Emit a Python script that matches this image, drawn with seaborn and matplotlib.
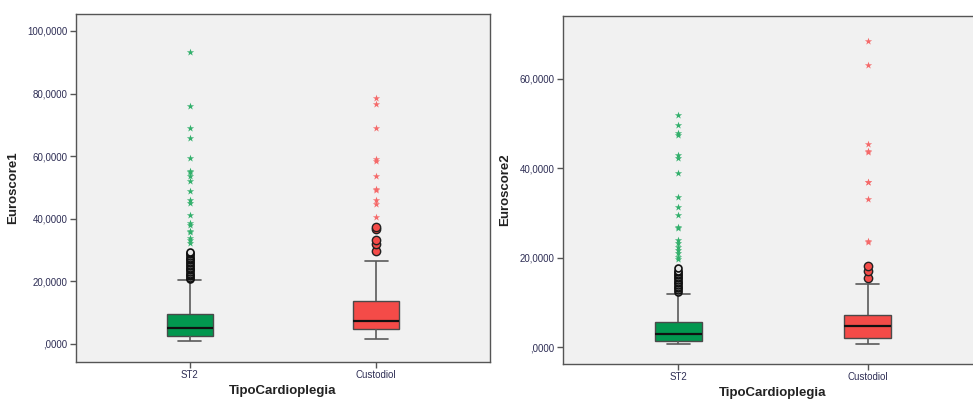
import numpy as np
import pandas as pd
import matplotlib
matplotlib.use("Agg")
import matplotlib.pyplot as plt
import seaborn as sns
from matplotlib.ticker import FuncFormatter

groups = ["ST2", "Custodiol"]

# box statistics: whisker low, Q1, median, Q3, whisker high
e1_st2_box = [0.85, 2.45, 5.1, 9.7, 20.4]
e1_cus_box = [1.4, 4.6, 7.45, 13.6, 26.4]
e2_st2_box = [0.6, 1.4, 2.8, 5.6, 11.8]
e2_cus_box = [0.75, 2.1, 4.7, 7.2, 14.1]

# outliers (circles) and extremes (stars)
e1_st2_out = [20.7, 21.1, 21.6, 22.1, 22.4, 23.0, 23.5, 23.8, 24.4, 24.9, 25.3,
              25.7, 26.3, 26.7, 27.2, 27.6, 28.1, 28.6, 29.0, 29.5]
e1_st2_ext = [93.4, 75.9, 69.1, 65.9, 59.4, 55.4, 54.8, 53.8, 52.0, 48.8, 46.1,
              45.0, 41.1, 38.7, 38.1, 36.2, 35.7, 33.9, 33.3, 32.3]
e1_cus_out = [29.7, 32.0, 33.3, 36.7, 37.3]
e1_cus_ext = [40.5, 44.8, 46.1, 49.3, 49.6, 53.7, 58.6, 59.0, 69.1, 76.6, 78.7]

e2_st2_out = [12.3, 12.8, 13.2, 13.5, 13.9, 14.3, 14.6, 15.0, 15.4, 15.7, 16.1,
              16.4, 16.8, 17.1, 17.6]
e2_st2_ext = [51.8, 49.6, 47.9, 47.4, 42.9, 42.3, 39.0, 33.6, 31.4, 29.6, 26.9,
              26.6, 23.9, 23.2, 22.4, 21.7, 21.0, 20.2, 19.6]
e2_cus_out = [15.5, 16.9, 18.1]
e2_cus_ext = [68.5, 63.1, 45.3, 43.6, 43.8, 36.8, 37.0, 33.1, 23.4, 23.7]

box_colors = {"ST2": "#02974F", "Custodiol": "#F44B48"}
star_colors = {"ST2": "#33B06C", "Custodiol": "#F56A6A"}

sns.set_style("white")
plt.rcParams["font.family"] = ["Liberation Sans", "DejaVu Sans"]

fig = plt.figure(figsize=(9.73, 3.99), dpi=100)
ax1 = fig.add_axes([0.0781, 0.0927, 0.4255, 0.872])
ax2 = fig.add_axes([0.5786, 0.0877, 0.4317, 0.872])


def fmt(v, pos):
    s = ("%.4f" % v).replace(".", ",")
    return s.lstrip("0") if v == 0 else s


def draw_panel(ax, st2_box, cus_box, st2_out, st2_ext, cus_out, cus_ext, ylabel):
    box_df = pd.DataFrame({
        "g": ["ST2"] * len(st2_box) + ["Custodiol"] * len(cus_box),
        "v": st2_box + cus_box,
    })
    sns.boxplot(data=box_df, x="g", y="v", hue="g", order=groups,
                palette=box_colors, saturation=1, width=0.25, whis=1.5,
                showfliers=False, legend=False, ax=ax,
                boxprops=dict(edgecolor="#4A4A4A", linewidth=1.0),
                whiskerprops=dict(color="#5A5A5A", linewidth=1.2),
                capprops=dict(color="#5A5A5A", linewidth=1.2),
                medianprops=dict(color="#111111", linewidth=1.6))

    # circles: mild outliers
    sns.stripplot(x=["ST2"] * len(st2_out), y=st2_out, order=groups,
                  jitter=False, marker="o", size=5, color="#E8E8E8",
                  edgecolor="#111111", linewidth=1.2, ax=ax)
    sns.stripplot(x=["Custodiol"] * len(cus_out), y=cus_out, order=groups,
                  jitter=False, marker="o", size=6, color=box_colors["Custodiol"],
                  edgecolor="#222222", linewidth=1.0, ax=ax)
    # stars: extremes
    sns.stripplot(x=["ST2"] * len(st2_ext), y=st2_ext, order=groups,
                  jitter=False, marker="*", size=5.5, color=star_colors["ST2"],
                  linewidth=0, ax=ax)
    sns.stripplot(x=["Custodiol"] * len(cus_ext), y=cus_ext, order=groups,
                  jitter=False, marker="*", size=5.5, color=star_colors["Custodiol"],
                  linewidth=0, ax=ax)

    ax.set_facecolor("#F1F1F1")
    for s in ax.spines.values():
        s.set_visible(True)
        s.set_color("#555555")
        s.set_linewidth(1.0)
    ax.set_xlim(-0.611, 1.611)
    ax.yaxis.set_major_formatter(FuncFormatter(fmt))
    ax.tick_params(axis="both", which="major", direction="out", length=4,
                   width=1, color="#555555", labelsize=7, labelcolor="#2E2E55",
                   left=True, bottom=True, pad=2)
    ax.set_xlabel("TipoCardioplegia", fontsize=9.5, fontweight="bold",
                  color="#222222", labelpad=3)
    ax.set_ylabel(ylabel, fontsize=9.5, fontweight="bold", color="#222222",
                  labelpad=6)


draw_panel(ax1, e1_st2_box, e1_cus_box, e1_st2_out, e1_st2_ext,
           e1_cus_out, e1_cus_ext, "Euroscore1")
ax1.set_ylim(-5.8, 105.4)
ax1.set_yticks([0, 20, 40, 60, 80, 100])

draw_panel(ax2, e2_st2_box, e2_cus_box, e2_st2_out, e2_st2_ext,
           e2_cus_out, e2_cus_ext, "Euroscore2")
ax2.set_ylim(-3.8, 74.0)
ax2.set_yticks([0, 20, 40, 60])

fig.savefig("out.png", dpi=100, facecolor="white")
